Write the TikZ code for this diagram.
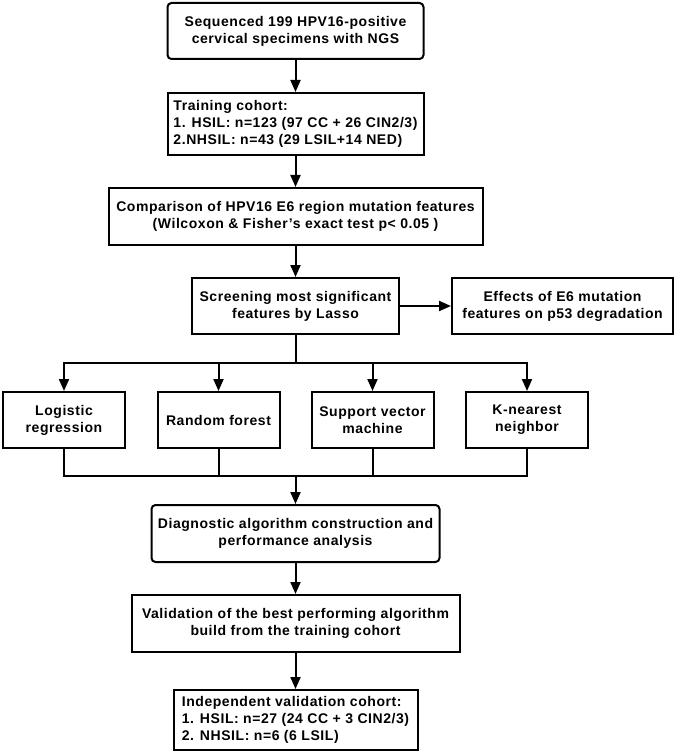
\documentclass[tikz,border=0pt]{standalone}
\usepackage{fontspec}
\setmainfont{Liberation Sans}[LetterSpace=4]
\usetikzlibrary{arrows.meta}
\begin{document}
\begin{tikzpicture}[x=1pt,y=-1pt,
  box/.style={draw, line width=2pt, font=\bfseries\fontsize{14}{17}\selectfont,
    align=center, inner sep=0pt},
  lbox/.style={box, align=left},
  rbox/.style={box, rounded corners=4pt},
  conn/.style={line width=2pt},
  arr/.style={line width=2pt, -{Triangle[width=10pt,length=12pt]}}
]
\useasboundingbox (0,0) rectangle (675,754);

\node[rbox, minimum width=256pt, minimum height=56pt] (top) at (295.5,31)
  {Sequenced 199 HPV16-positive\\cervical specimens with NGS};
\node[lbox, minimum width=256pt, minimum height=62pt] (train) at (295.5,124)
  {Training cohort:\\1. HSIL: n=123 (97 CC + 26 CIN2/3)\\2.NHSIL: n=43 (29 LSIL+14 NED)};
\node[box, minimum width=374pt, minimum height=57pt] (comp) at (295.5,216.5)
  {Comparison of HPV16 E6 region mutation features\\(Wilcoxon \& Fisher’s exact test p< 0.05 )};
\node[box, minimum width=207pt, minimum height=56pt] (screen) at (295.5,306)
  {Screening most significant\\features by Lasso};
\node[box, minimum width=221pt, minimum height=56pt] (effects) at (562.5,306)
  {Effects of E6 mutation\\features on p53 degradation};

\node[box, minimum width=122pt, minimum height=56pt] (lr) at (64,420)
  {Logistic\\regression};
\node[box, minimum width=122pt, minimum height=56pt] (rf) at (218.5,420)
  {Random forest};
\node[box, minimum width=122pt, minimum height=56pt] (svm) at (372.5,420)
  {Support vector\\machine};
\node[box, minimum width=122pt, minimum height=56pt] (knn) at (527,420)
  {K-nearest\\neighbor};

\node[rbox, minimum width=288pt, minimum height=57pt] (diag) at (295.5,533.5)
  {Diagnostic algorithm construction and\\performance analysis};
\node[box, minimum width=328pt, minimum height=57pt] (valid) at (295.5,623.5)
  {Validation of the best performing algorithm\\build from the training cohort};
\node[lbox, minimum width=244pt, minimum height=60pt] (indep) at (295.5,720)
  {Independent validation cohort:\\1. HSIL: n=27 (24 CC + 3 CIN2/3)\\2. NHSIL: n=6 (6 LSIL)};

\coordinate (b1) at (295.5,363);
\coordinate (m1) at (295.5,476);

\draw[arr] (top) -- (train);
\draw[arr] (train) -- (comp);
\draw[arr] (comp) -- (screen);
\draw[arr] (screen) -- (effects);

\draw[conn] (screen.south) -- (b1);
\draw[arr] (b1) -| (lr.north);
\draw[arr] (b1) -| (knn.north);
\draw[arr] (rf.north |- b1) -- (rf.north);
\draw[arr] (svm.north |- b1) -- (svm.north);

\draw[conn] (lr.south) |- (m1);
\draw[conn] (knn.south) |- (m1);
\draw[conn] (rf.south) -- (rf.south |- m1);
\draw[conn] (svm.south) -- (svm.south |- m1);
\draw[arr] (m1) -- (diag);

\draw[arr] (diag) -- (valid);
\draw[arr] (valid) -- (indep);
\end{tikzpicture}
\end{document}
